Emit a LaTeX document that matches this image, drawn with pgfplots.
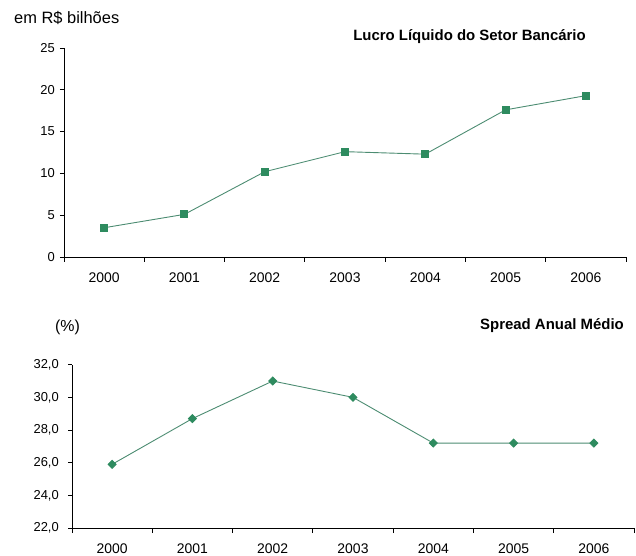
\documentclass[border=0pt]{standalone}
\usepackage{pgfplots}
\pgfplotsset{compat=1.18}
\usepackage{fontspec}
\setmainfont{Liberation Sans}
\definecolor{mk}{HTML}{2E8B5F}
\definecolor{ln}{HTML}{4C8C72}
\pgfplotsset{
  mystyle/.style={
    scale only axis,
    axis lines=left,
    axis line style={-, line width=0.9bp},
    xmin=-0.5, xmax=6.5,
    xtick={0,...,6},
    xticklabels={2000,2001,2002,2003,2004,2005,2006},
    minor xtick={-0.5,0.5,...,6.5},
    major x tick style={draw=none},
    tick align=outside,
    major tick length=4bp,
    minor tick length=5bp,
    tick style={black, line width=0.8bp},
    /pgf/number format/assume math mode=true,
    xticklabel style={font=\fontsize{14}{16}\selectfont, yshift=-8bp},
    yticklabel style={font=\fontsize{13}{15}\selectfont, inner sep=1bp},
  }
}
\begin{document}
\begin{tikzpicture}
\useasboundingbox (0,0) rectangle (636bp,556bp);
% top chart
\begin{axis}[mystyle,
  at={(64bp,299bp)}, anchor=south west,
  width=562bp, height=209bp,
  ymin=0, ymax=25, ytick={0,5,...,25},
  yticklabel style={xshift=-4bp},
]
\addplot[color=ln, line width=0.9bp, mark=square*, mark size=3.5bp,
  mark options={fill=mk, draw=mk}] coordinates {
  (0,3.5) (1,5.1) (2,10.2) (3,12.6) (4,12.3) (5,17.6) (6,19.3)};
\end{axis}
% bottom chart
\begin{axis}[mystyle,
  at={(72bp,28bp)}, anchor=south west,
  width=562bp, height=163.3bp,
  ymin=22, ymax=32, ytick={22,24,...,32},
  yticklabel style={xshift=-8bp},
  /pgf/number format/.cd, use comma, fixed, fixed zerofill, precision=1,
]
\addplot[color=ln, line width=0.9bp, mark=square*, mark size=2.8bp,
  mark options={fill=mk, draw=mk, rotate=45}] coordinates {
  (0,25.9) (1,28.7) (2,31.0) (3,30.0) (4,27.2) (5,27.2) (6,27.2)};
\end{axis}
\node[anchor=west, inner sep=0pt, font=\fontsize{16.5}{18}\selectfont] at (14bp,538bp) {em R\$ bilhões};
\node[anchor=center, inner sep=0pt, font=\fontsize{15}{17}\selectfont\bfseries] at (469.5bp,519bp) {Lucro Líquido do Setor Bancário};
\node[anchor=center, inner sep=0pt, font=\fontsize{16}{18}\selectfont] at (67.5bp,229bp) {(\%)};
\node[anchor=east, inner sep=0pt, font=\fontsize{15}{17}\selectfont\bfseries] at (624bp,230bp) {Spread Anual Médio};
\end{tikzpicture}
\end{document}
